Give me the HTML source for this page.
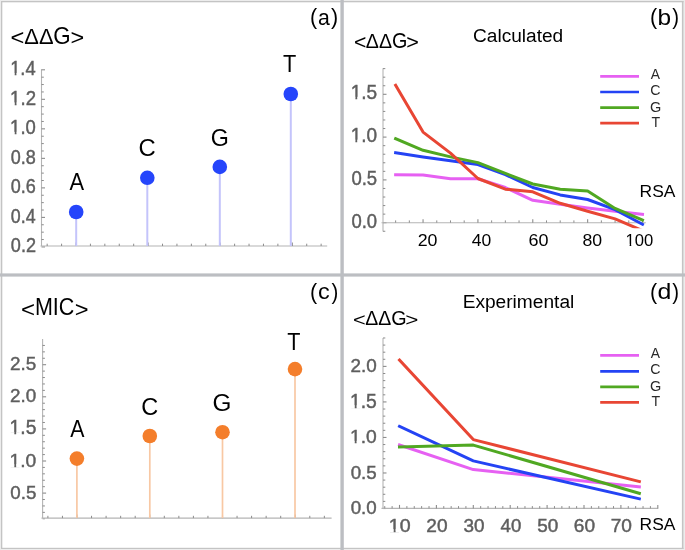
<!DOCTYPE html>
<html><head><meta charset="utf-8"><style>
html,body{margin:0;padding:0;background:#fff;}
svg{display:block;filter:blur(0.3px);}
text{font-family:"Liberation Sans",sans-serif;}
</style></head><body>
<svg width="685" height="550" viewBox="0 0 685 550">
<rect width="685" height="550" fill="#fff"/>
<rect x="0.00" y="0.00" width="685.00" height="1.00" fill="#ececec"/>
<rect x="0.00" y="0.00" width="1.00" height="550.00" fill="#ececec"/>
<rect x="1.00" y="1.00" width="683.00" height="1.30" fill="#c4c4c4"/>
<rect x="1.00" y="1.00" width="1.30" height="548.00" fill="#c4c4c4"/>
<rect x="681.90" y="1.00" width="1.80" height="548.00" fill="#c4c4c4"/>
<rect x="1.00" y="547.80" width="683.00" height="1.50" fill="#c4c4c4"/>
<rect x="683.70" y="0.00" width="1.30" height="550.00" fill="#ececec"/>
<rect x="0.00" y="549.30" width="685.00" height="0.70" fill="#ececec"/>
<rect x="340.40" y="0.00" width="3.40" height="550.00" fill="#bcbec2"/>
<rect x="0.00" y="273.40" width="685.00" height="3.20" fill="#bcbec2"/>
<text transform="translate(309.97 24.00) scale(0.968 1)" font-size="22.22" fill="#000">(</text>
<text transform="translate(318.00 24.59) scale(0.969 1)" font-size="21.90" fill="#000">a</text>
<text transform="translate(331.07 24.00) scale(0.968 1)" font-size="22.22" fill="#000">)</text>
<text transform="translate(10.43 45.43) scale(1.093 1)" font-size="21.66" fill="#000">&lt;</text>
<text transform="translate(24.35 43.80) scale(0.958 1)" font-size="22.82" fill="#000">ΔΔ</text>
<text transform="translate(53.28 43.97) scale(0.965 1)" font-size="23.16" fill="#000">G</text>
<text transform="translate(70.44 45.20) scale(1.103 1)" font-size="21.27" fill="#000">&gt;</text>
<line x1="41.50" y1="69.30" x2="41.50" y2="246.00" stroke="#b4b4b4" stroke-width="1.1"/>
<line x1="41.50" y1="239.54" x2="43.80" y2="239.54" stroke="#8c8c8c" stroke-width="1.0"/>
<line x1="41.50" y1="232.16" x2="43.80" y2="232.16" stroke="#8c8c8c" stroke-width="1.0"/>
<line x1="41.50" y1="224.78" x2="43.80" y2="224.78" stroke="#8c8c8c" stroke-width="1.0"/>
<line x1="41.50" y1="210.02" x2="43.80" y2="210.02" stroke="#8c8c8c" stroke-width="1.0"/>
<line x1="41.50" y1="202.64" x2="43.80" y2="202.64" stroke="#8c8c8c" stroke-width="1.0"/>
<line x1="41.50" y1="195.26" x2="43.80" y2="195.26" stroke="#8c8c8c" stroke-width="1.0"/>
<line x1="41.50" y1="180.50" x2="43.80" y2="180.50" stroke="#8c8c8c" stroke-width="1.0"/>
<line x1="41.50" y1="173.12" x2="43.80" y2="173.12" stroke="#8c8c8c" stroke-width="1.0"/>
<line x1="41.50" y1="165.74" x2="43.80" y2="165.74" stroke="#8c8c8c" stroke-width="1.0"/>
<line x1="41.50" y1="150.98" x2="43.80" y2="150.98" stroke="#8c8c8c" stroke-width="1.0"/>
<line x1="41.50" y1="143.60" x2="43.80" y2="143.60" stroke="#8c8c8c" stroke-width="1.0"/>
<line x1="41.50" y1="136.22" x2="43.80" y2="136.22" stroke="#8c8c8c" stroke-width="1.0"/>
<line x1="41.50" y1="121.46" x2="43.80" y2="121.46" stroke="#8c8c8c" stroke-width="1.0"/>
<line x1="41.50" y1="114.08" x2="43.80" y2="114.08" stroke="#8c8c8c" stroke-width="1.0"/>
<line x1="41.50" y1="106.70" x2="43.80" y2="106.70" stroke="#8c8c8c" stroke-width="1.0"/>
<line x1="41.50" y1="91.94" x2="43.80" y2="91.94" stroke="#8c8c8c" stroke-width="1.0"/>
<line x1="41.50" y1="84.56" x2="43.80" y2="84.56" stroke="#8c8c8c" stroke-width="1.0"/>
<line x1="41.50" y1="77.18" x2="43.80" y2="77.18" stroke="#8c8c8c" stroke-width="1.0"/>
<line x1="41.50" y1="246.92" x2="45.00" y2="246.92" stroke="#8c8c8c" stroke-width="1.1"/>
<line x1="41.50" y1="217.40" x2="45.00" y2="217.40" stroke="#8c8c8c" stroke-width="1.1"/>
<line x1="41.50" y1="187.88" x2="45.00" y2="187.88" stroke="#8c8c8c" stroke-width="1.1"/>
<line x1="41.50" y1="158.36" x2="45.00" y2="158.36" stroke="#8c8c8c" stroke-width="1.1"/>
<line x1="41.50" y1="128.84" x2="45.00" y2="128.84" stroke="#8c8c8c" stroke-width="1.1"/>
<line x1="41.50" y1="99.32" x2="45.00" y2="99.32" stroke="#8c8c8c" stroke-width="1.1"/>
<line x1="41.50" y1="69.80" x2="45.00" y2="69.80" stroke="#8c8c8c" stroke-width="1.1"/>
<line x1="40.50" y1="246.00" x2="327.20" y2="246.00" stroke="#b4b4b4" stroke-width="1.1"/>
<line x1="47.16" y1="246.00" x2="47.16" y2="243.70" stroke="#8c8c8c" stroke-width="1.0"/>
<line x1="61.58" y1="246.00" x2="61.58" y2="243.70" stroke="#8c8c8c" stroke-width="1.0"/>
<line x1="90.42" y1="246.00" x2="90.42" y2="243.70" stroke="#8c8c8c" stroke-width="1.0"/>
<line x1="104.84" y1="246.00" x2="104.84" y2="243.70" stroke="#8c8c8c" stroke-width="1.0"/>
<line x1="119.26" y1="246.00" x2="119.26" y2="243.70" stroke="#8c8c8c" stroke-width="1.0"/>
<line x1="133.68" y1="246.00" x2="133.68" y2="243.70" stroke="#8c8c8c" stroke-width="1.0"/>
<line x1="162.52" y1="246.00" x2="162.52" y2="243.70" stroke="#8c8c8c" stroke-width="1.0"/>
<line x1="176.94" y1="246.00" x2="176.94" y2="243.70" stroke="#8c8c8c" stroke-width="1.0"/>
<line x1="191.36" y1="246.00" x2="191.36" y2="243.70" stroke="#8c8c8c" stroke-width="1.0"/>
<line x1="205.78" y1="246.00" x2="205.78" y2="243.70" stroke="#8c8c8c" stroke-width="1.0"/>
<line x1="234.62" y1="246.00" x2="234.62" y2="243.70" stroke="#8c8c8c" stroke-width="1.0"/>
<line x1="249.04" y1="246.00" x2="249.04" y2="243.70" stroke="#8c8c8c" stroke-width="1.0"/>
<line x1="263.46" y1="246.00" x2="263.46" y2="243.70" stroke="#8c8c8c" stroke-width="1.0"/>
<line x1="277.88" y1="246.00" x2="277.88" y2="243.70" stroke="#8c8c8c" stroke-width="1.0"/>
<line x1="306.72" y1="246.00" x2="306.72" y2="243.70" stroke="#8c8c8c" stroke-width="1.0"/>
<line x1="321.14" y1="246.00" x2="321.14" y2="243.70" stroke="#8c8c8c" stroke-width="1.0"/>
<line x1="76.00" y1="246.00" x2="76.00" y2="242.50" stroke="#8c8c8c" stroke-width="1.1"/>
<line x1="148.10" y1="246.00" x2="148.10" y2="242.50" stroke="#8c8c8c" stroke-width="1.1"/>
<line x1="220.20" y1="246.00" x2="220.20" y2="242.50" stroke="#8c8c8c" stroke-width="1.1"/>
<line x1="292.30" y1="246.00" x2="292.30" y2="242.50" stroke="#8c8c8c" stroke-width="1.1"/>
<text transform="translate(10.82 252.31) scale(0.932 1)" font-size="19.42" fill="#5e5e5e" stroke="#5e5e5e" stroke-width="0.45">0.2</text>
<text transform="translate(10.83 222.79) scale(0.917 1)" font-size="19.42" fill="#5e5e5e" stroke="#5e5e5e" stroke-width="0.45">0.4</text>
<text transform="translate(10.82 193.27) scale(0.928 1)" font-size="19.42" fill="#5e5e5e" stroke="#5e5e5e" stroke-width="0.45">0.6</text>
<text transform="translate(10.82 163.75) scale(0.927 1)" font-size="19.42" fill="#5e5e5e" stroke="#5e5e5e" stroke-width="0.45">0.8</text>
<g transform="translate(10.12 134.23) scale(0.951 1)"><text font-size="19.42" fill="#5e5e5e" stroke="#5e5e5e" stroke-width="0.45">1.0</text><rect x="0.38" y="-2.38" width="4.44" height="3.48" fill="#fff"/><rect x="6.67" y="-2.38" width="4.24" height="3.48" fill="#fff"/></g>
<g transform="translate(10.11 104.90) scale(0.946 1)"><text font-size="19.69" fill="#5e5e5e" stroke="#5e5e5e" stroke-width="0.45">1.2</text><rect x="0.38" y="-2.40" width="4.50" height="3.50" fill="#fff"/><rect x="6.76" y="-2.40" width="4.30" height="3.50" fill="#fff"/></g>
<g transform="translate(10.13 75.38) scale(0.917 1)"><text font-size="19.99" fill="#5e5e5e" stroke="#5e5e5e" stroke-width="0.45">1.4</text><rect x="0.39" y="-2.42" width="4.57" height="3.52" fill="#fff"/><rect x="6.86" y="-2.42" width="4.36" height="3.52" fill="#fff"/></g>
<line x1="76.20" y1="212.00" x2="76.20" y2="246.00" stroke="#c4c4fb" stroke-width="2.0"/>
<circle cx="76.20" cy="212.00" r="7.30" fill="#2545fb"/>
<line x1="147.30" y1="177.80" x2="147.30" y2="246.00" stroke="#c4c4fb" stroke-width="2.0"/>
<circle cx="147.30" cy="177.80" r="7.30" fill="#2545fb"/>
<line x1="219.80" y1="166.90" x2="219.80" y2="246.00" stroke="#c4c4fb" stroke-width="2.0"/>
<circle cx="219.80" cy="166.90" r="7.30" fill="#2545fb"/>
<line x1="290.80" y1="94.00" x2="290.80" y2="246.00" stroke="#c4c4fb" stroke-width="2.0"/>
<circle cx="290.80" cy="94.00" r="7.30" fill="#2545fb"/>
<text transform="translate(69.46 189.50) scale(0.912 1)" font-size="23.98" fill="#000">A</text>
<text transform="translate(138.39 155.68) scale(1.036 1)" font-size="23.02" fill="#000">C</text>
<text transform="translate(210.83 146.07) scale(0.987 1)" font-size="23.59" fill="#000">G</text>
<text transform="translate(283.01 72.20) scale(0.896 1)" font-size="24.27" fill="#000">T</text>
<text transform="translate(309.97 298.58) scale(0.963 1)" font-size="22.33" fill="#000">(</text>
<text transform="translate(317.90 299.18) scale(1.035 1)" font-size="22.63" fill="#000">c</text>
<text transform="translate(331.38 298.58) scale(0.912 1)" font-size="22.33" fill="#000">)</text>
<text transform="translate(21.01 316.84) scale(1.102 1)" font-size="21.86" fill="#000">&lt;</text>
<text transform="translate(34.93 315.37) scale(0.908 1)" font-size="23.73" fill="#000">MIC</text>
<text transform="translate(74.73 316.84) scale(1.083 1)" font-size="21.86" fill="#000">&gt;</text>
<line x1="42.60" y1="339.00" x2="42.60" y2="518.10" stroke="#b4b4b4" stroke-width="1.1"/>
<line x1="42.60" y1="518.78" x2="44.90" y2="518.78" stroke="#8c8c8c" stroke-width="1.0"/>
<line x1="42.60" y1="512.36" x2="44.90" y2="512.36" stroke="#8c8c8c" stroke-width="1.0"/>
<line x1="42.60" y1="505.94" x2="44.90" y2="505.94" stroke="#8c8c8c" stroke-width="1.0"/>
<line x1="42.60" y1="499.52" x2="44.90" y2="499.52" stroke="#8c8c8c" stroke-width="1.0"/>
<line x1="42.60" y1="486.68" x2="44.90" y2="486.68" stroke="#8c8c8c" stroke-width="1.0"/>
<line x1="42.60" y1="480.26" x2="44.90" y2="480.26" stroke="#8c8c8c" stroke-width="1.0"/>
<line x1="42.60" y1="473.84" x2="44.90" y2="473.84" stroke="#8c8c8c" stroke-width="1.0"/>
<line x1="42.60" y1="467.42" x2="44.90" y2="467.42" stroke="#8c8c8c" stroke-width="1.0"/>
<line x1="42.60" y1="454.58" x2="44.90" y2="454.58" stroke="#8c8c8c" stroke-width="1.0"/>
<line x1="42.60" y1="448.16" x2="44.90" y2="448.16" stroke="#8c8c8c" stroke-width="1.0"/>
<line x1="42.60" y1="441.74" x2="44.90" y2="441.74" stroke="#8c8c8c" stroke-width="1.0"/>
<line x1="42.60" y1="435.32" x2="44.90" y2="435.32" stroke="#8c8c8c" stroke-width="1.0"/>
<line x1="42.60" y1="422.48" x2="44.90" y2="422.48" stroke="#8c8c8c" stroke-width="1.0"/>
<line x1="42.60" y1="416.06" x2="44.90" y2="416.06" stroke="#8c8c8c" stroke-width="1.0"/>
<line x1="42.60" y1="409.64" x2="44.90" y2="409.64" stroke="#8c8c8c" stroke-width="1.0"/>
<line x1="42.60" y1="403.22" x2="44.90" y2="403.22" stroke="#8c8c8c" stroke-width="1.0"/>
<line x1="42.60" y1="390.38" x2="44.90" y2="390.38" stroke="#8c8c8c" stroke-width="1.0"/>
<line x1="42.60" y1="383.96" x2="44.90" y2="383.96" stroke="#8c8c8c" stroke-width="1.0"/>
<line x1="42.60" y1="377.54" x2="44.90" y2="377.54" stroke="#8c8c8c" stroke-width="1.0"/>
<line x1="42.60" y1="371.12" x2="44.90" y2="371.12" stroke="#8c8c8c" stroke-width="1.0"/>
<line x1="42.60" y1="358.28" x2="44.90" y2="358.28" stroke="#8c8c8c" stroke-width="1.0"/>
<line x1="42.60" y1="351.86" x2="44.90" y2="351.86" stroke="#8c8c8c" stroke-width="1.0"/>
<line x1="42.60" y1="345.44" x2="44.90" y2="345.44" stroke="#8c8c8c" stroke-width="1.0"/>
<line x1="42.60" y1="493.10" x2="46.10" y2="493.10" stroke="#8c8c8c" stroke-width="1.1"/>
<line x1="42.60" y1="461.00" x2="46.10" y2="461.00" stroke="#8c8c8c" stroke-width="1.1"/>
<line x1="42.60" y1="428.90" x2="46.10" y2="428.90" stroke="#8c8c8c" stroke-width="1.1"/>
<line x1="42.60" y1="396.80" x2="46.10" y2="396.80" stroke="#8c8c8c" stroke-width="1.1"/>
<line x1="42.60" y1="364.70" x2="46.10" y2="364.70" stroke="#8c8c8c" stroke-width="1.1"/>
<line x1="41.50" y1="518.10" x2="331.60" y2="518.10" stroke="#b4b4b4" stroke-width="1.1"/>
<line x1="47.90" y1="518.10" x2="47.90" y2="515.80" stroke="#8c8c8c" stroke-width="1.0"/>
<line x1="62.45" y1="518.10" x2="62.45" y2="515.80" stroke="#8c8c8c" stroke-width="1.0"/>
<line x1="91.55" y1="518.10" x2="91.55" y2="515.80" stroke="#8c8c8c" stroke-width="1.0"/>
<line x1="106.10" y1="518.10" x2="106.10" y2="515.80" stroke="#8c8c8c" stroke-width="1.0"/>
<line x1="120.65" y1="518.10" x2="120.65" y2="515.80" stroke="#8c8c8c" stroke-width="1.0"/>
<line x1="135.20" y1="518.10" x2="135.20" y2="515.80" stroke="#8c8c8c" stroke-width="1.0"/>
<line x1="164.30" y1="518.10" x2="164.30" y2="515.80" stroke="#8c8c8c" stroke-width="1.0"/>
<line x1="178.85" y1="518.10" x2="178.85" y2="515.80" stroke="#8c8c8c" stroke-width="1.0"/>
<line x1="193.40" y1="518.10" x2="193.40" y2="515.80" stroke="#8c8c8c" stroke-width="1.0"/>
<line x1="207.95" y1="518.10" x2="207.95" y2="515.80" stroke="#8c8c8c" stroke-width="1.0"/>
<line x1="237.05" y1="518.10" x2="237.05" y2="515.80" stroke="#8c8c8c" stroke-width="1.0"/>
<line x1="251.60" y1="518.10" x2="251.60" y2="515.80" stroke="#8c8c8c" stroke-width="1.0"/>
<line x1="266.15" y1="518.10" x2="266.15" y2="515.80" stroke="#8c8c8c" stroke-width="1.0"/>
<line x1="280.70" y1="518.10" x2="280.70" y2="515.80" stroke="#8c8c8c" stroke-width="1.0"/>
<line x1="309.80" y1="518.10" x2="309.80" y2="515.80" stroke="#8c8c8c" stroke-width="1.0"/>
<line x1="324.35" y1="518.10" x2="324.35" y2="515.80" stroke="#8c8c8c" stroke-width="1.0"/>
<line x1="77.00" y1="518.10" x2="77.00" y2="514.60" stroke="#8c8c8c" stroke-width="1.1"/>
<line x1="149.75" y1="518.10" x2="149.75" y2="514.60" stroke="#8c8c8c" stroke-width="1.1"/>
<line x1="222.50" y1="518.10" x2="222.50" y2="514.60" stroke="#8c8c8c" stroke-width="1.1"/>
<line x1="295.25" y1="518.10" x2="295.25" y2="514.60" stroke="#8c8c8c" stroke-width="1.1"/>
<text transform="translate(10.29 498.69) scale(0.980 1)" font-size="19.14" fill="#5e5e5e" stroke="#5e5e5e" stroke-width="0.45">0.5</text>
<g transform="translate(9.56 466.59) scale(1.006 1)"><text font-size="19.14" fill="#5e5e5e" stroke="#5e5e5e" stroke-width="0.45">1.0</text><rect x="0.37" y="-2.35" width="4.37" height="3.45" fill="#fff"/><rect x="6.57" y="-2.35" width="4.18" height="3.45" fill="#fff"/></g>
<g transform="translate(9.55 434.49) scale(0.994 1)"><text font-size="19.42" fill="#5e5e5e" stroke="#5e5e5e" stroke-width="0.45">1.5</text><rect x="0.38" y="-2.38" width="4.44" height="3.48" fill="#fff"/><rect x="6.67" y="-2.38" width="4.24" height="3.48" fill="#fff"/></g>
<text transform="translate(10.08 402.39) scale(0.986 1)" font-size="19.14" fill="#5e5e5e" stroke="#5e5e5e" stroke-width="0.45">2.0</text>
<text transform="translate(10.07 370.29) scale(0.988 1)" font-size="19.14" fill="#5e5e5e" stroke="#5e5e5e" stroke-width="0.45">2.5</text>
<line x1="76.90" y1="458.60" x2="76.90" y2="518.10" stroke="#f8c8a4" stroke-width="1.7"/>
<circle cx="76.90" cy="458.60" r="7.30" fill="#f47e2b"/>
<line x1="149.80" y1="436.00" x2="149.80" y2="518.10" stroke="#f8c8a4" stroke-width="1.7"/>
<circle cx="149.80" cy="436.00" r="7.30" fill="#f47e2b"/>
<line x1="222.50" y1="432.20" x2="222.50" y2="518.10" stroke="#f8c8a4" stroke-width="1.7"/>
<circle cx="222.50" cy="432.20" r="7.30" fill="#f47e2b"/>
<line x1="295.00" y1="369.10" x2="295.00" y2="518.10" stroke="#f8c8a4" stroke-width="1.7"/>
<circle cx="295.00" cy="369.10" r="7.30" fill="#f47e2b"/>
<text transform="translate(70.26 437.10) scale(0.898 1)" font-size="23.69" fill="#000">A</text>
<text transform="translate(141.21 415.26) scale(0.974 1)" font-size="24.15" fill="#000">C</text>
<text x="212.48" y="410.96" font-size="24.29" fill="#000">G</text>
<text transform="translate(287.32 349.60) scale(0.911 1)" font-size="23.69" fill="#000">T</text>
<text transform="translate(649.97 24.00) scale(0.968 1)" font-size="22.22" fill="#000">(</text>
<text transform="translate(657.52 24.59) scale(1.116 1)" font-size="21.92" fill="#000">b</text>
<text transform="translate(672.18 24.00) scale(0.917 1)" font-size="22.22" fill="#000">)</text>
<text transform="translate(353.95 49.45) scale(1.099 1)" font-size="19.30" fill="#000">&lt;</text>
<text transform="translate(365.82 47.90) scale(0.956 1)" font-size="20.49" fill="#000">ΔΔ</text>
<text transform="translate(391.91 48.39) scale(0.933 1)" font-size="21.19" fill="#000">G</text>
<text transform="translate(406.13 49.47) scale(1.109 1)" font-size="19.50" fill="#000">&gt;</text>
<text transform="translate(473.03 42.32) scale(1.016 1)" font-size="18.79" fill="#000">Calculated</text>
<line x1="383.00" y1="68.20" x2="383.00" y2="231.40" stroke="#b4b4b4" stroke-width="1.1"/>
<line x1="383.00" y1="231.26" x2="385.30" y2="231.26" stroke="#8c8c8c" stroke-width="1.0"/>
<line x1="383.00" y1="214.14" x2="385.30" y2="214.14" stroke="#8c8c8c" stroke-width="1.0"/>
<line x1="383.00" y1="205.58" x2="385.30" y2="205.58" stroke="#8c8c8c" stroke-width="1.0"/>
<line x1="383.00" y1="197.02" x2="385.30" y2="197.02" stroke="#8c8c8c" stroke-width="1.0"/>
<line x1="383.00" y1="188.46" x2="385.30" y2="188.46" stroke="#8c8c8c" stroke-width="1.0"/>
<line x1="383.00" y1="171.34" x2="385.30" y2="171.34" stroke="#8c8c8c" stroke-width="1.0"/>
<line x1="383.00" y1="162.78" x2="385.30" y2="162.78" stroke="#8c8c8c" stroke-width="1.0"/>
<line x1="383.00" y1="154.22" x2="385.30" y2="154.22" stroke="#8c8c8c" stroke-width="1.0"/>
<line x1="383.00" y1="145.66" x2="385.30" y2="145.66" stroke="#8c8c8c" stroke-width="1.0"/>
<line x1="383.00" y1="128.54" x2="385.30" y2="128.54" stroke="#8c8c8c" stroke-width="1.0"/>
<line x1="383.00" y1="119.98" x2="385.30" y2="119.98" stroke="#8c8c8c" stroke-width="1.0"/>
<line x1="383.00" y1="111.42" x2="385.30" y2="111.42" stroke="#8c8c8c" stroke-width="1.0"/>
<line x1="383.00" y1="102.86" x2="385.30" y2="102.86" stroke="#8c8c8c" stroke-width="1.0"/>
<line x1="383.00" y1="85.74" x2="385.30" y2="85.74" stroke="#8c8c8c" stroke-width="1.0"/>
<line x1="383.00" y1="77.18" x2="385.30" y2="77.18" stroke="#8c8c8c" stroke-width="1.0"/>
<line x1="383.00" y1="68.62" x2="385.30" y2="68.62" stroke="#8c8c8c" stroke-width="1.0"/>
<line x1="383.00" y1="222.70" x2="386.50" y2="222.70" stroke="#8c8c8c" stroke-width="1.1"/>
<line x1="383.00" y1="179.90" x2="386.50" y2="179.90" stroke="#8c8c8c" stroke-width="1.1"/>
<line x1="383.00" y1="137.10" x2="386.50" y2="137.10" stroke="#8c8c8c" stroke-width="1.1"/>
<line x1="383.00" y1="94.30" x2="386.50" y2="94.30" stroke="#8c8c8c" stroke-width="1.1"/>
<line x1="381.50" y1="222.70" x2="645.80" y2="222.70" stroke="#b4b4b4" stroke-width="1.1"/>
<line x1="395.63" y1="222.70" x2="395.63" y2="220.40" stroke="#8c8c8c" stroke-width="1.0"/>
<line x1="409.34" y1="222.70" x2="409.34" y2="220.40" stroke="#8c8c8c" stroke-width="1.0"/>
<line x1="436.77" y1="222.70" x2="436.77" y2="220.40" stroke="#8c8c8c" stroke-width="1.0"/>
<line x1="450.49" y1="222.70" x2="450.49" y2="220.40" stroke="#8c8c8c" stroke-width="1.0"/>
<line x1="464.20" y1="222.70" x2="464.20" y2="220.40" stroke="#8c8c8c" stroke-width="1.0"/>
<line x1="491.63" y1="222.70" x2="491.63" y2="220.40" stroke="#8c8c8c" stroke-width="1.0"/>
<line x1="505.35" y1="222.70" x2="505.35" y2="220.40" stroke="#8c8c8c" stroke-width="1.0"/>
<line x1="519.06" y1="222.70" x2="519.06" y2="220.40" stroke="#8c8c8c" stroke-width="1.0"/>
<line x1="546.50" y1="222.70" x2="546.50" y2="220.40" stroke="#8c8c8c" stroke-width="1.0"/>
<line x1="560.21" y1="222.70" x2="560.21" y2="220.40" stroke="#8c8c8c" stroke-width="1.0"/>
<line x1="573.92" y1="222.70" x2="573.92" y2="220.40" stroke="#8c8c8c" stroke-width="1.0"/>
<line x1="601.36" y1="222.70" x2="601.36" y2="220.40" stroke="#8c8c8c" stroke-width="1.0"/>
<line x1="615.07" y1="222.70" x2="615.07" y2="220.40" stroke="#8c8c8c" stroke-width="1.0"/>
<line x1="628.78" y1="222.70" x2="628.78" y2="220.40" stroke="#8c8c8c" stroke-width="1.0"/>
<line x1="423.06" y1="222.70" x2="423.06" y2="219.20" stroke="#8c8c8c" stroke-width="1.1"/>
<line x1="477.92" y1="222.70" x2="477.92" y2="219.20" stroke="#8c8c8c" stroke-width="1.1"/>
<line x1="532.78" y1="222.70" x2="532.78" y2="219.20" stroke="#8c8c8c" stroke-width="1.1"/>
<line x1="587.64" y1="222.70" x2="587.64" y2="219.20" stroke="#8c8c8c" stroke-width="1.1"/>
<line x1="642.50" y1="222.70" x2="642.50" y2="219.20" stroke="#8c8c8c" stroke-width="1.1"/>
<text transform="translate(351.40 227.68) scale(0.938 1)" font-size="19.70" fill="#5e5e5e" stroke="#5e5e5e" stroke-width="0.45">0.0</text>
<text transform="translate(351.40 184.88) scale(0.940 1)" font-size="19.70" fill="#5e5e5e" stroke="#5e5e5e" stroke-width="0.45">0.5</text>
<g transform="translate(350.68 142.08) scale(0.965 1)"><text font-size="19.70" fill="#5e5e5e" stroke="#5e5e5e" stroke-width="0.45">1.0</text><rect x="0.38" y="-2.40" width="4.50" height="3.50" fill="#fff"/><rect x="6.76" y="-2.40" width="4.30" height="3.50" fill="#fff"/></g>
<g transform="translate(350.67 99.28) scale(0.954 1)"><text font-size="19.99" fill="#5e5e5e" stroke="#5e5e5e" stroke-width="0.45">1.5</text><rect x="0.39" y="-2.42" width="4.57" height="3.52" fill="#fff"/><rect x="6.86" y="-2.42" width="4.36" height="3.52" fill="#fff"/></g>
<text transform="translate(417.71 245.83) scale(1.050 1)" font-size="16.95" fill="#000">20</text>
<text transform="translate(471.80 245.83) scale(1.034 1)" font-size="16.95" fill="#000">40</text>
<text transform="translate(528.49 245.83) scale(1.062 1)" font-size="16.95" fill="#000">60</text>
<text transform="translate(582.43 245.83) scale(1.043 1)" font-size="16.95" fill="#000">80</text>
<g transform="translate(625.53 245.83) scale(0.980 1)"><text font-size="16.95" fill="#000">100</text><rect x="0.33" y="-1.97" width="3.87" height="3.07" fill="#fff"/><rect x="5.82" y="-1.97" width="3.70" height="3.07" fill="#fff"/></g>
<text transform="translate(639.57 197.43) scale(1.021 1)" font-size="17.09" fill="#000">RSA</text>
<line x1="600.20" y1="76.30" x2="639.00" y2="76.30" stroke="#e660f2" stroke-width="2.7"/>
<line x1="600.20" y1="92.00" x2="639.00" y2="92.00" stroke="#2443f4" stroke-width="2.7"/>
<line x1="600.20" y1="107.70" x2="639.00" y2="107.70" stroke="#50a822" stroke-width="2.7"/>
<line x1="600.20" y1="123.20" x2="639.00" y2="123.20" stroke="#e84634" stroke-width="2.7"/>
<defs><clipPath id="cb"><rect x="383" y="60" width="300" height="168.3"/></clipPath><clipPath id="cd"><rect x="383" y="330" width="300" height="200"/></clipPath></defs>
<polyline points="395.63,174.80 423.06,175.00 450.49,178.80 477.92,178.80 505.35,187.50 532.78,200.30 560.21,204.20 587.64,207.90 615.07,211.20 642.50,214.30" fill="none" stroke="#e660f2" stroke-width="3.0" stroke-linejoin="round" stroke-linecap="square"/>
<polyline points="395.63,152.70 423.06,156.90 450.49,160.70 477.92,164.50 505.35,174.60 532.78,187.50 560.21,194.90 587.64,199.50 615.07,209.60 642.50,224.30" fill="none" stroke="#2443f4" stroke-width="3.0" stroke-linejoin="round" stroke-linecap="square"/>
<polyline points="395.63,138.70 423.06,150.30 450.49,156.90 477.92,162.60 505.35,173.40 532.78,184.00 560.21,189.30 587.64,190.90 615.07,208.40 642.50,220.10" fill="none" stroke="#50a822" stroke-width="3.0" stroke-linejoin="round" stroke-linecap="square"/>
<polyline points="395.63,85.30 423.06,132.10 450.49,153.10 477.92,178.50 505.35,189.20 532.78,191.80 560.21,203.30 587.64,211.20 615.07,218.90 642.50,230.60" fill="none" stroke="#e84634" stroke-width="3.0" stroke-linejoin="round" stroke-linecap="square" clip-path="url(#cb)"/>
<text transform="translate(649.97 298.58) scale(0.963 1)" font-size="22.33" fill="#000">(</text>
<text transform="translate(657.55 298.79) scale(1.158 1)" font-size="21.51" fill="#000">d</text>
<text transform="translate(672.18 298.58) scale(0.912 1)" font-size="22.33" fill="#000">)</text>
<text transform="translate(352.92 326.04) scale(1.142 1)" font-size="19.10" fill="#000">&lt;</text>
<text transform="translate(365.22 324.60) scale(0.969 1)" font-size="20.06" fill="#000">ΔΔ</text>
<text transform="translate(391.31 324.70) scale(0.965 1)" font-size="20.48" fill="#000">G</text>
<text transform="translate(405.19 326.04) scale(1.175 1)" font-size="19.10" fill="#000">&gt;</text>
<text transform="translate(462.63 307.86) scale(1.063 1)" font-size="18.02" fill="#000">Experimental</text>
<line x1="383.00" y1="337.90" x2="383.00" y2="508.50" stroke="#b4b4b4" stroke-width="1.1"/>
<line x1="383.00" y1="501.39" x2="385.30" y2="501.39" stroke="#8c8c8c" stroke-width="1.0"/>
<line x1="383.00" y1="494.29" x2="385.30" y2="494.29" stroke="#8c8c8c" stroke-width="1.0"/>
<line x1="383.00" y1="487.19" x2="385.30" y2="487.19" stroke="#8c8c8c" stroke-width="1.0"/>
<line x1="383.00" y1="480.08" x2="385.30" y2="480.08" stroke="#8c8c8c" stroke-width="1.0"/>
<line x1="383.00" y1="465.87" x2="385.30" y2="465.87" stroke="#8c8c8c" stroke-width="1.0"/>
<line x1="383.00" y1="458.76" x2="385.30" y2="458.76" stroke="#8c8c8c" stroke-width="1.0"/>
<line x1="383.00" y1="451.66" x2="385.30" y2="451.66" stroke="#8c8c8c" stroke-width="1.0"/>
<line x1="383.00" y1="444.56" x2="385.30" y2="444.56" stroke="#8c8c8c" stroke-width="1.0"/>
<line x1="383.00" y1="430.35" x2="385.30" y2="430.35" stroke="#8c8c8c" stroke-width="1.0"/>
<line x1="383.00" y1="423.24" x2="385.30" y2="423.24" stroke="#8c8c8c" stroke-width="1.0"/>
<line x1="383.00" y1="416.13" x2="385.30" y2="416.13" stroke="#8c8c8c" stroke-width="1.0"/>
<line x1="383.00" y1="409.03" x2="385.30" y2="409.03" stroke="#8c8c8c" stroke-width="1.0"/>
<line x1="383.00" y1="394.82" x2="385.30" y2="394.82" stroke="#8c8c8c" stroke-width="1.0"/>
<line x1="383.00" y1="387.71" x2="385.30" y2="387.71" stroke="#8c8c8c" stroke-width="1.0"/>
<line x1="383.00" y1="380.61" x2="385.30" y2="380.61" stroke="#8c8c8c" stroke-width="1.0"/>
<line x1="383.00" y1="373.50" x2="385.30" y2="373.50" stroke="#8c8c8c" stroke-width="1.0"/>
<line x1="383.00" y1="359.29" x2="385.30" y2="359.29" stroke="#8c8c8c" stroke-width="1.0"/>
<line x1="383.00" y1="352.19" x2="385.30" y2="352.19" stroke="#8c8c8c" stroke-width="1.0"/>
<line x1="383.00" y1="345.08" x2="385.30" y2="345.08" stroke="#8c8c8c" stroke-width="1.0"/>
<line x1="383.00" y1="337.98" x2="385.30" y2="337.98" stroke="#8c8c8c" stroke-width="1.0"/>
<line x1="383.00" y1="508.50" x2="386.50" y2="508.50" stroke="#8c8c8c" stroke-width="1.1"/>
<line x1="383.00" y1="472.98" x2="386.50" y2="472.98" stroke="#8c8c8c" stroke-width="1.1"/>
<line x1="383.00" y1="437.45" x2="386.50" y2="437.45" stroke="#8c8c8c" stroke-width="1.1"/>
<line x1="383.00" y1="401.93" x2="386.50" y2="401.93" stroke="#8c8c8c" stroke-width="1.1"/>
<line x1="383.00" y1="366.40" x2="386.50" y2="366.40" stroke="#8c8c8c" stroke-width="1.1"/>
<line x1="381.50" y1="508.40" x2="658.20" y2="508.40" stroke="#b4b4b4" stroke-width="1.1"/>
<line x1="384.74" y1="508.40" x2="384.74" y2="506.10" stroke="#8c8c8c" stroke-width="1.0"/>
<line x1="392.12" y1="508.40" x2="392.12" y2="506.10" stroke="#8c8c8c" stroke-width="1.0"/>
<line x1="406.88" y1="508.40" x2="406.88" y2="506.10" stroke="#8c8c8c" stroke-width="1.0"/>
<line x1="414.26" y1="508.40" x2="414.26" y2="506.10" stroke="#8c8c8c" stroke-width="1.0"/>
<line x1="421.64" y1="508.40" x2="421.64" y2="506.10" stroke="#8c8c8c" stroke-width="1.0"/>
<line x1="429.02" y1="508.40" x2="429.02" y2="506.10" stroke="#8c8c8c" stroke-width="1.0"/>
<line x1="443.78" y1="508.40" x2="443.78" y2="506.10" stroke="#8c8c8c" stroke-width="1.0"/>
<line x1="451.16" y1="508.40" x2="451.16" y2="506.10" stroke="#8c8c8c" stroke-width="1.0"/>
<line x1="458.54" y1="508.40" x2="458.54" y2="506.10" stroke="#8c8c8c" stroke-width="1.0"/>
<line x1="465.92" y1="508.40" x2="465.92" y2="506.10" stroke="#8c8c8c" stroke-width="1.0"/>
<line x1="480.68" y1="508.40" x2="480.68" y2="506.10" stroke="#8c8c8c" stroke-width="1.0"/>
<line x1="488.06" y1="508.40" x2="488.06" y2="506.10" stroke="#8c8c8c" stroke-width="1.0"/>
<line x1="495.44" y1="508.40" x2="495.44" y2="506.10" stroke="#8c8c8c" stroke-width="1.0"/>
<line x1="502.82" y1="508.40" x2="502.82" y2="506.10" stroke="#8c8c8c" stroke-width="1.0"/>
<line x1="517.58" y1="508.40" x2="517.58" y2="506.10" stroke="#8c8c8c" stroke-width="1.0"/>
<line x1="524.96" y1="508.40" x2="524.96" y2="506.10" stroke="#8c8c8c" stroke-width="1.0"/>
<line x1="532.34" y1="508.40" x2="532.34" y2="506.10" stroke="#8c8c8c" stroke-width="1.0"/>
<line x1="539.72" y1="508.40" x2="539.72" y2="506.10" stroke="#8c8c8c" stroke-width="1.0"/>
<line x1="554.48" y1="508.40" x2="554.48" y2="506.10" stroke="#8c8c8c" stroke-width="1.0"/>
<line x1="561.86" y1="508.40" x2="561.86" y2="506.10" stroke="#8c8c8c" stroke-width="1.0"/>
<line x1="569.24" y1="508.40" x2="569.24" y2="506.10" stroke="#8c8c8c" stroke-width="1.0"/>
<line x1="576.62" y1="508.40" x2="576.62" y2="506.10" stroke="#8c8c8c" stroke-width="1.0"/>
<line x1="591.38" y1="508.40" x2="591.38" y2="506.10" stroke="#8c8c8c" stroke-width="1.0"/>
<line x1="598.76" y1="508.40" x2="598.76" y2="506.10" stroke="#8c8c8c" stroke-width="1.0"/>
<line x1="606.14" y1="508.40" x2="606.14" y2="506.10" stroke="#8c8c8c" stroke-width="1.0"/>
<line x1="613.52" y1="508.40" x2="613.52" y2="506.10" stroke="#8c8c8c" stroke-width="1.0"/>
<line x1="628.28" y1="508.40" x2="628.28" y2="506.10" stroke="#8c8c8c" stroke-width="1.0"/>
<line x1="635.66" y1="508.40" x2="635.66" y2="506.10" stroke="#8c8c8c" stroke-width="1.0"/>
<line x1="643.04" y1="508.40" x2="643.04" y2="506.10" stroke="#8c8c8c" stroke-width="1.0"/>
<line x1="650.42" y1="508.40" x2="650.42" y2="506.10" stroke="#8c8c8c" stroke-width="1.0"/>
<line x1="399.50" y1="508.40" x2="399.50" y2="504.90" stroke="#8c8c8c" stroke-width="1.1"/>
<line x1="436.40" y1="508.40" x2="436.40" y2="504.90" stroke="#8c8c8c" stroke-width="1.1"/>
<line x1="473.30" y1="508.40" x2="473.30" y2="504.90" stroke="#8c8c8c" stroke-width="1.1"/>
<line x1="510.20" y1="508.40" x2="510.20" y2="504.90" stroke="#8c8c8c" stroke-width="1.1"/>
<line x1="547.10" y1="508.40" x2="547.10" y2="504.90" stroke="#8c8c8c" stroke-width="1.1"/>
<line x1="584.00" y1="508.40" x2="584.00" y2="504.90" stroke="#8c8c8c" stroke-width="1.1"/>
<line x1="620.90" y1="508.40" x2="620.90" y2="504.90" stroke="#8c8c8c" stroke-width="1.1"/>
<line x1="657.80" y1="508.40" x2="657.80" y2="504.90" stroke="#8c8c8c" stroke-width="1.1"/>
<text transform="translate(350.69 514.29) scale(0.978 1)" font-size="19.14" fill="#5e5e5e" stroke="#5e5e5e" stroke-width="0.45">0.0</text>
<text transform="translate(350.69 478.76) scale(0.980 1)" font-size="19.14" fill="#5e5e5e" stroke="#5e5e5e" stroke-width="0.45">0.5</text>
<g transform="translate(349.96 443.24) scale(1.006 1)"><text font-size="19.14" fill="#5e5e5e" stroke="#5e5e5e" stroke-width="0.45">1.0</text><rect x="0.37" y="-2.35" width="4.37" height="3.45" fill="#fff"/><rect x="6.57" y="-2.35" width="4.18" height="3.45" fill="#fff"/></g>
<g transform="translate(349.95 407.71) scale(0.994 1)"><text font-size="19.42" fill="#5e5e5e" stroke="#5e5e5e" stroke-width="0.45">1.5</text><rect x="0.38" y="-2.38" width="4.44" height="3.48" fill="#fff"/><rect x="6.67" y="-2.38" width="4.24" height="3.48" fill="#fff"/></g>
<text transform="translate(350.48 372.19) scale(0.986 1)" font-size="19.14" fill="#5e5e5e" stroke="#5e5e5e" stroke-width="0.45">2.0</text>
<g transform="translate(388.83 531.50) scale(1.064 1)"><text font-size="18.43" fill="#5e5e5e" stroke="#5e5e5e" stroke-width="0.45">10</text><rect x="0.36" y="-2.30" width="4.21" height="3.40" fill="#fff"/><rect x="6.33" y="-2.30" width="4.02" height="3.40" fill="#fff"/></g>
<text transform="translate(426.26 531.50) scale(1.037 1)" font-size="18.43" fill="#5e5e5e" stroke="#5e5e5e" stroke-width="0.45">20</text>
<text transform="translate(463.41 531.50) scale(1.025 1)" font-size="18.43" fill="#5e5e5e" stroke="#5e5e5e" stroke-width="0.45">30</text>
<text transform="translate(500.60 531.50) scale(1.010 1)" font-size="18.43" fill="#5e5e5e" stroke="#5e5e5e" stroke-width="0.45">40</text>
<text transform="translate(537.17 531.50) scale(1.027 1)" font-size="18.43" fill="#5e5e5e" stroke="#5e5e5e" stroke-width="0.45">50</text>
<text transform="translate(573.85 531.50) scale(1.037 1)" font-size="18.43" fill="#5e5e5e" stroke="#5e5e5e" stroke-width="0.45">60</text>
<text transform="translate(610.74 531.50) scale(1.038 1)" font-size="18.43" fill="#5e5e5e" stroke="#5e5e5e" stroke-width="0.45">70</text>
<text transform="translate(639.57 530.44) scale(1.047 1)" font-size="16.67" fill="#000">RSA</text>
<line x1="600.20" y1="355.40" x2="639.00" y2="355.40" stroke="#e660f2" stroke-width="2.7"/>
<line x1="600.20" y1="371.30" x2="639.00" y2="371.30" stroke="#2443f4" stroke-width="2.7"/>
<line x1="600.20" y1="386.90" x2="639.00" y2="386.90" stroke="#50a822" stroke-width="2.7"/>
<line x1="600.20" y1="402.40" x2="639.00" y2="402.40" stroke="#e84634" stroke-width="2.7"/>
<polyline points="399.50,445.00 473.30,469.60 639.35,486.90" fill="none" stroke="#e660f2" stroke-width="3.0" stroke-linejoin="round" stroke-linecap="square"/>
<polyline points="399.50,426.40 473.30,460.90 639.35,498.80" fill="none" stroke="#2443f4" stroke-width="3.0" stroke-linejoin="round" stroke-linecap="square"/>
<polyline points="399.50,446.90 473.30,445.10 639.35,493.30" fill="none" stroke="#50a822" stroke-width="3.0" stroke-linejoin="round" stroke-linecap="square"/>
<polyline points="399.50,360.00 473.30,439.60 639.35,481.50" fill="none" stroke="#e84634" stroke-width="3.0" stroke-linejoin="round" stroke-linecap="square"/>
<text transform="translate(650.87 78.80) scale(0.974 1)" font-size="14.24" fill="#2a2a2a">A</text>
<text transform="translate(650.28 95.16) scale(1.027 1)" font-size="13.84" fill="#2a2a2a">C</text>
<text transform="translate(650.07 111.76) scale(1.041 1)" font-size="13.98" fill="#2a2a2a">G</text>
<text transform="translate(651.38 127.30) scale(0.945 1)" font-size="14.97" fill="#2a2a2a">T</text>
<text transform="translate(650.87 357.90) scale(0.974 1)" font-size="14.24" fill="#2a2a2a">A</text>
<text transform="translate(650.28 374.26) scale(1.027 1)" font-size="13.84" fill="#2a2a2a">C</text>
<text transform="translate(650.07 390.86) scale(1.041 1)" font-size="13.98" fill="#2a2a2a">G</text>
<text transform="translate(651.38 406.40) scale(0.945 1)" font-size="14.97" fill="#2a2a2a">T</text>
</svg>
</body></html>
